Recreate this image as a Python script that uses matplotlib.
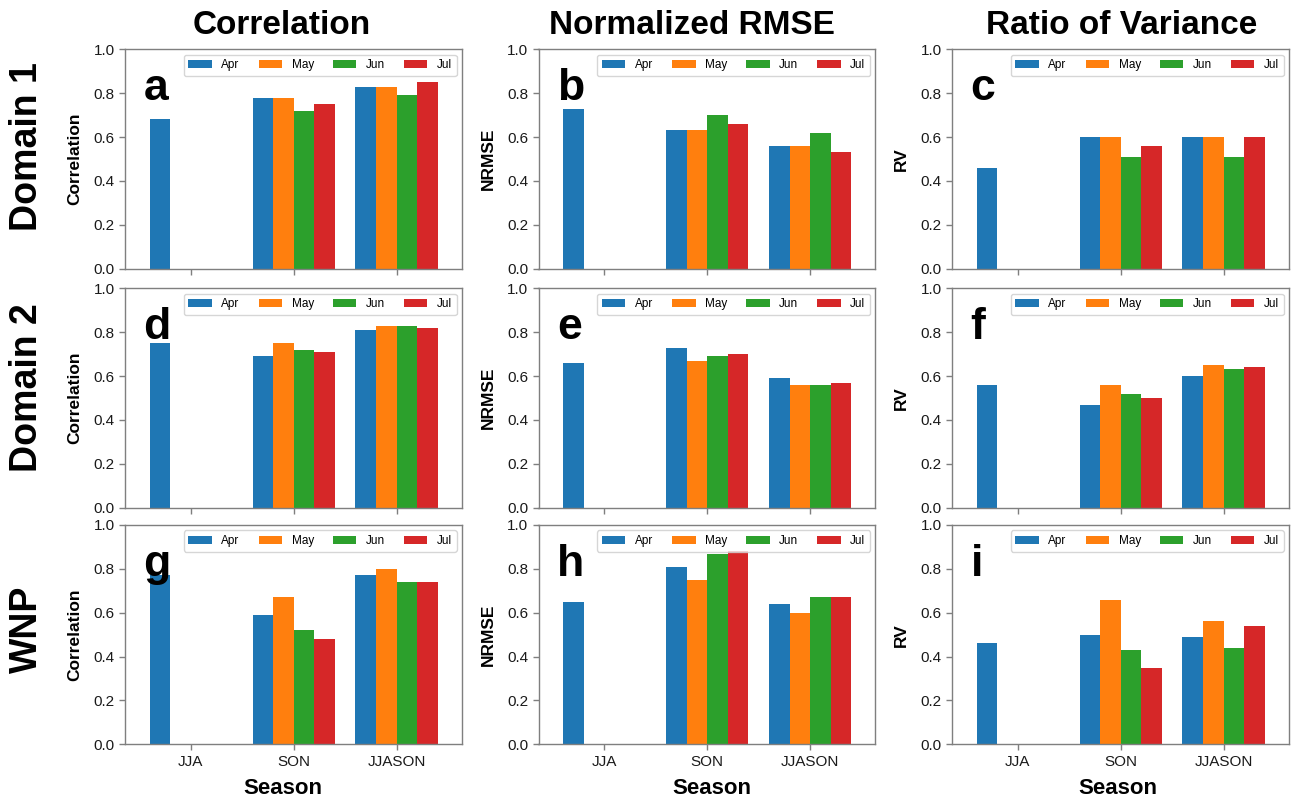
import numpy as np
import matplotlib
matplotlib.use("Agg")
import matplotlib.pyplot as plt

plt.rcParams['font.family'] = ['Liberation Sans', 'DejaVu Sans']

seasons = ["JJA", "SON", "JJASON"]
months = ["Apr", "May", "Jun", "Jul"]
colors = ["#1f77b4", "#ff7f0e", "#2ca02c", "#d62728"]

# values per panel: [Apr, May, Jun, Jul] for each season; JJA only has Apr (NaN elsewhere)
nan = np.nan
corr_d1 = [[0.68, nan, nan, nan], [0.78, 0.78, 0.72, 0.75], [0.83, 0.83, 0.79, 0.85]]
nrmse_d1 = [[0.73, nan, nan, nan], [0.63, 0.63, 0.70, 0.66], [0.56, 0.56, 0.62, 0.53]]
rv_d1 = [[0.46, nan, nan, nan], [0.60, 0.60, 0.51, 0.56], [0.60, 0.60, 0.51, 0.60]]
corr_d2 = [[0.75, nan, nan, nan], [0.69, 0.75, 0.72, 0.71], [0.81, 0.83, 0.83, 0.82]]
nrmse_d2 = [[0.66, nan, nan, nan], [0.73, 0.67, 0.69, 0.70], [0.59, 0.56, 0.56, 0.57]]
rv_d2 = [[0.56, nan, nan, nan], [0.47, 0.56, 0.52, 0.50], [0.60, 0.65, 0.63, 0.64]]
corr_wnp = [[0.77, nan, nan, nan], [0.59, 0.67, 0.52, 0.48], [0.77, 0.80, 0.74, 0.74]]
nrmse_wnp = [[0.65, nan, nan, nan], [0.81, 0.75, 0.87, 0.88], [0.64, 0.60, 0.67, 0.67]]
rv_wnp = [[0.46, nan, nan, nan], [0.50, 0.66, 0.43, 0.35], [0.49, 0.56, 0.44, 0.54]]

panels = [[corr_d1, nrmse_d1, rv_d1],
          [corr_d2, nrmse_d2, rv_d2],
          [corr_wnp, nrmse_wnp, rv_wnp]]
letters = [["a", "b", "c"], ["d", "e", "f"], ["g", "h", "i"]]
col_titles = ["Correlation", "Normalized RMSE", "Ratio of Variance"]
ylabels = ["Correlation", "NRMSE", "RV"]
row_labels = ["Domain 1", "Domain 2", "WNP"]

W, H = 1292, 800
fig = plt.figure(figsize=(W / 100, H / 100), dpi=100)

col_left = [125, 538.5, 952]
ax_w = 337
row_top = [49.3, 288.3, 525]
ax_h = 219.3

gray = "#7f7f7f"
x = np.arange(len(seasons))
width = 0.2
offsets = [-0.3, -0.1, 0.1, 0.3]

for r in range(3):
    for c in range(3):
        ax = fig.add_axes([col_left[c] / W, 1 - (row_top[r] + ax_h) / H, ax_w / W, ax_h / H])
        data = np.array(panels[r][c], dtype=float)
        for m in range(4):
            ax.bar(x + offsets[m], data[:, m], width, color=colors[m], label=months[m],
                   linewidth=0)
        ax.set_xlim(-0.64, 2.635)
        ax.set_ylim(0, 1.0)
        ax.set_yticks(np.arange(0, 1.01, 0.2))
        ax.set_xticks(x)
        if r == 2:
            ax.set_xticklabels(seasons)
        else:
            ax.set_xticklabels([])
        for s in ax.spines.values():
            s.set_color(gray)
            s.set_linewidth(1.0)
        ax.tick_params(colors=gray, labelcolor="#1a1a1a", labelsize=11, length=4, width=1)
        ax.set_ylabel(ylabels[c], fontsize=12.5, fontweight="bold", labelpad=8)
        ax.text(0.055, 0.767, letters[r][c], transform=ax.transAxes, fontsize=32,
                fontweight="bold", ha="left", va="baseline")
        ax.legend(ncol=4, loc="upper right", fontsize=8.5, handlelength=2.0,
                  handleheight=0.6, columnspacing=1.6, borderaxespad=0.45)

# column titles
title_x = [282, 692, 1122]
for c in range(3):
    fig.text(title_x[c] / W, 1 - 25 / H, col_titles[c], fontsize=24, fontweight="bold",
             ha="center", va="center")

# row labels
row_y = [147, 388, 629]
for r in range(3):
    fig.text(27 / W, 1 - row_y[r] / H, row_labels[r], fontsize=27, fontweight="bold",
             ha="center", va="center", rotation=90)

# season labels
season_x = [283, 712, 1118]
for c in range(3):
    fig.text(season_x[c] / W, 1 - 789 / H, "Season", fontsize=16, fontweight="bold",
             ha="center", va="center")

fig.savefig("out.png", dpi=100)
